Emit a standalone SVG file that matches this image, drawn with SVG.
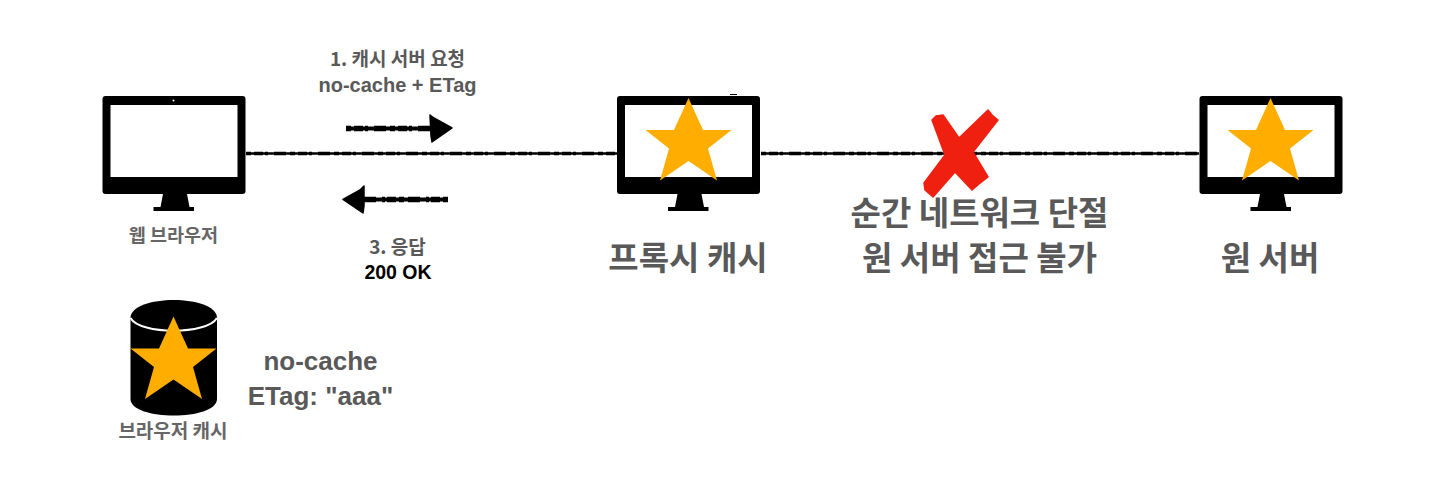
<svg xmlns="http://www.w3.org/2000/svg" width="1440" height="492" viewBox="0 0 1440 492">
<style>
text{font-family:"Liberation Sans","Noto Sans CJK KR",sans-serif;font-weight:700;fill:#595959;text-anchor:middle}
.cjk{font-family:"Noto Sans CJK KR","Liberation Sans",sans-serif}
.s{font-size:18.500px;fill:#666}.m{font-size:19px}.c{font-size:19px;fill:#666}.e{font-size:20px}.b{font-size:26px}.l{font-size:33px}
.wire{stroke:#000;stroke-width:2.600;fill:none}
.rough{stroke:#000;stroke-width:3.600;fill:none;stroke-dasharray:5 3 9 2 3 6 12 4}
.wire2{stroke:#000;stroke-width:4;fill:none}
.rough2{stroke:#000;stroke-width:5.400;fill:none;stroke-dasharray:5 3 9 2 3 6 12 4}
.ah{fill:#000;stroke:#000;stroke-width:1.500;stroke-linejoin:round}
</style>
<defs>
<g id="mon">
<rect x="0" y="0" width="143" height="98" rx="3" fill="#000"/>
<rect x="8" y="9" width="127" height="72" fill="#fff"/>
<path d="M60.500 98H84.500L87 111H91.500V115H51V111H58Z" fill="#000"/>
</g>
<polygon id="star" points="0,0 14.500,32 43,32 19.500,50.500 28.500,82.500 0,63 -28.500,82.500 -19.500,50.500 -43,32 -14.500,32" fill="#ffae00"/>
</defs>
<g id="connectors">
<path class="wire" d="M246 153.500H617"/><path class="rough" d="M246 153.500H617"/>
<path class="wire" d="M761 153.500H1199"/><path class="rough" d="M761 153.500H1199"/>
<path class="wire2" d="M346 128.500H432"/><path class="rough2" d="M346 128.500H432"/>
<path class="ah" d="M430 115L434 118L452 128L432 142L431 136Z"/>
<path class="wire2" d="M448 199.500H362"/><path class="rough2" d="M448 199.500H362"/>
<path class="ah" d="M364 186L360 190L343 199.500L363 213L364 206Z"/>
</g>
<g id="browser"><use href="#mon" x="102.500" y="96"/><circle cx="173.500" cy="100.500" r="1" fill="#fff"/>
<text class="cjk s" x="173.500" y="242">웹 브라우저</text></g>
<g id="proxy"><use href="#mon" x="617" y="96"/><use href="#star" x="688.500" y="98"/>
<path d="M730 94.500H737" stroke="#000" stroke-width="1"/>
<text class="cjk l" x="688" y="270">프록시 캐시</text></g>
<g id="origin"><use href="#mon" x="1199.500" y="96"/><use href="#star" x="1270.500" y="98"/>
<text class="cjk l" x="1270" y="270">원 서버</text></g>
<g id="cut"><path d="M932 120L936 116L943 115L959 138L988 110L992 115L998 120L973 152L988 177L979 184L972 190L955 172L933 197L925 190L924 183L945 155Z" fill="#ef2010" stroke="#ef2010" stroke-width="1.500" stroke-linejoin="round"/>
<text class="cjk l" x="979.500" y="225">순간 네트워크 단절</text>
<text class="cjk l" x="979.500" y="270">원 서버 접근 불가</text></g>
<g id="request"><text class="cjk m" x="397.500" y="66">1. 캐시 서버 요청</text><text class="e" x="397.500" y="92">no-cache + ETag</text></g>
<g id="response"><text class="cjk m" x="397.500" y="254">3. 응답</text><text x="398" y="279" style="fill:#000;font-size:19.500px">200 OK</text></g>
<g id="cache"><path d="M130.500 318C130.500 294 217 294 217 318V399C217 421 130.500 421 130.500 399Z" fill="#000"/>
<path d="M130.500 318C140 335 207 335 217 318" fill="none" stroke="#fff" stroke-width="2"/>
<use href="#star" x="173.500" y="316.500"/>
<text class="cjk c" x="173" y="438">브라우저 캐시</text></g>
<g id="note"><text class="b" x="320.500" y="370">no-cache</text><text class="b" x="320.500" y="405">ETag: "aaa"</text></g>
</svg>
